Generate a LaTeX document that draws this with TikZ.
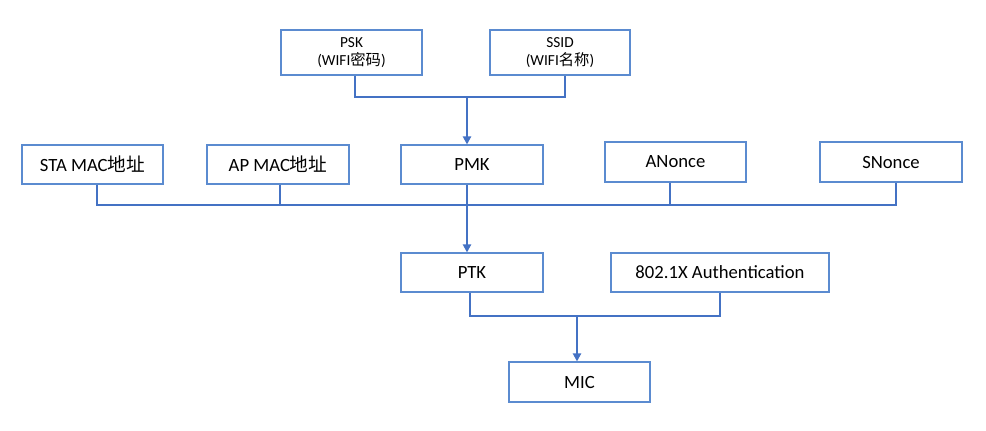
\documentclass[tikz,border=0pt]{standalone}
\usepackage{fontspec}
\setmainfont{Carlito}
\newfontfamily\cjk{Noto Sans CJK SC}
\usetikzlibrary{arrows.meta}
\definecolor{ln}{HTML}{4472C4}
\definecolor{bx}{HTML}{5B8BD0}
\begin{document}
\begin{tikzpicture}[x=0.75pt,y=-0.75pt,
 box/.style={draw=bx,line width=0.8pt,fill=white,inner sep=0pt,font=\fontsize{14}{16}\selectfont},
 sbox/.style={box,font=\fontsize{11.5}{13.5}\selectfont,align=center},
 wire/.style={ln,line width=2pt},
 arr/.style={wire,-{Triangle[length=6pt,width=6pt]}}]
\useasboundingbox (0,0) rectangle (986,430);
\node[sbox,minimum width=105.75pt,minimum height=33.75pt] (psk) at (351.5,52.5) {PSK\\(WIFI{\cjk 密码})};
\node[sbox,minimum width=105pt,minimum height=33.75pt] (ssid) at (560,52.5) {SSID\\(WIFI{\cjk 名称})};
\node[box,minimum width=105.75pt,minimum height=29.25pt] (sta) at (92.5,164.5) {STA MAC{\cjk 地址}};
\node[box,minimum width=106.5pt,minimum height=29.25pt] (ap) at (278,164.5) {AP MAC{\cjk 地址}};
\node[box,minimum width=106.5pt,minimum height=29.25pt] (pmk) at (472,164.5) {PMK};
\node[box,minimum width=105.75pt,minimum height=30pt] (an) at (675.5,162) {ANonce};
\node[box,minimum width=106.5pt,minimum height=30pt] (sn) at (891,162) {SNonce};
\node[box,minimum width=106.5pt,minimum height=29.25pt] (ptk) at (472,272.5) {PTK};
\node[box,minimum width=163.5pt,minimum height=29.25pt] (auth) at (720,272.5) {802.1X Authentication};
\node[box,minimum width=105.75pt,minimum height=30pt] (mic) at (579.5,382) {MIC};
\coordinate (j1) at (467,97);
\coordinate (j2) at (467,205);
\coordinate (j3) at (577,316);
\draw[wire] (psk.south -| 355,0) |- (j1) -| (ssid.south -| 565,0);
\draw[arr] (j1) -- (pmk.north -| j1);
\draw[wire] (sta.south -| 97,0) |- (j2) -| (sn.south -| 896,0);
\draw[wire] (ap.south -| 280,0) -- (280,205);
\draw[wire] (an.south -| 670,0) -- (670,205);
\draw[wire] (pmk.south -| j2) -- (j2);
\draw[arr] (j2) -- (ptk.north -| j2);
\draw[wire] (ptk.south -| 470,0) |- (j3) -| (auth.south -| 720,0);
\draw[arr] (j3) -- (mic.north -| j3);
\end{tikzpicture}
\end{document}
